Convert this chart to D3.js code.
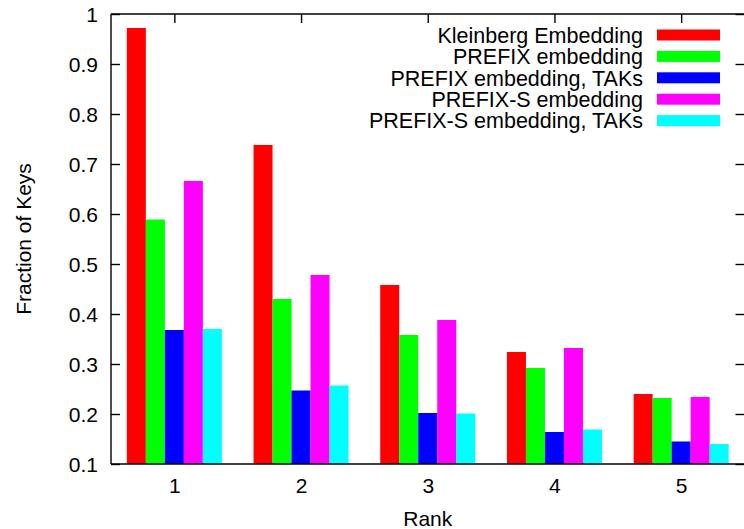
<!DOCTYPE html>
<html>
<head>
<meta charset="utf-8">
<script src="https://cdn.jsdelivr.net/npm/d3@7"></script>
<style>
  html, body { margin: 0; padding: 0; background: #fff; }
  svg { display: block; }
  text { font-family: "Liberation Sans", Arial, Helvetica, sans-serif; fill: #000; }
</style>
</head>
<body>
<svg id="chart" width="744" height="529"></svg>
<script>
// Ranks along the x axis
const ranks = [1, 2, 3, 4, 5];

// Series names and colours
const seriesNames = [
  "Kleinberg Embedding",
  "PREFIX embedding",
  "PREFIX embedding, TAKs",
  "PREFIX-S embedding",
  "PREFIX-S embedding, TAKs"
];
const seriesColors = ["#ff0000", "#00ff00", "#0000ff", "#ff00ff", "#00ffff"];

// Fraction of keys per rank, one array per series
const kleinberg   = [0.972, 0.738, 0.458, 0.324, 0.240];
const prefix      = [0.589, 0.430, 0.358, 0.292, 0.232];
const prefixTaks  = [0.368, 0.247, 0.202, 0.164, 0.145];
const prefixS     = [0.666, 0.478, 0.388, 0.332, 0.234];
const prefixSTaks = [0.370, 0.257, 0.201, 0.169, 0.140];
const seriesValues = [kleinberg, prefix, prefixTaks, prefixS, prefixSTaks];

// Y tick values and labels
const yTicks = [0.1, 0.2, 0.3, 0.4, 0.5, 0.6, 0.7, 0.8, 0.9, 1];
const yTickLabels = ["0.1", "0.2", "0.3", "0.4", "0.5", "0.6", "0.7", "0.8", "0.9", "1"];

const barWidthUnits = 0.15;
const fontSize = 21;

const svg = d3.select("#chart");
const plotLeft = 111, plotRight = 744.5, plotTop = 14, plotBottom = 464;

const x = d3.scaleLinear().domain([0.5, 5.5]).range([plotLeft, plotRight]);
const y = d3.scaleLinear().domain([0.1, 1]).range([plotBottom, plotTop]);
const bw = x(1 + barWidthUnits) - x(1);

// Bars
seriesValues.forEach((vals, si) => {
  svg.append("g")
    .selectAll("rect")
    .data(vals)
    .enter()
    .append("rect")
    .attr("x", (d, i) => x(ranks[i]) - 2.5 * bw + si * bw)
    .attr("width", bw)
    .attr("y", d => y(d))
    .attr("height", d => y(0.1) - y(d))
    .attr("fill", seriesColors[si]);
});

// Frame
const frame = svg.append("g").attr("stroke", "#000").attr("stroke-width", 1.4).attr("fill", "none");
frame.append("line").attr("x1", plotLeft).attr("x2", plotLeft).attr("y1", plotTop).attr("y2", plotBottom);
frame.append("line").attr("x1", plotLeft).attr("x2", plotRight).attr("y1", plotTop).attr("y2", plotTop);
frame.append("line").attr("x1", plotLeft).attr("x2", plotRight).attr("y1", plotBottom).attr("y2", plotBottom);

// Left axis with inward ticks
const yAxisLeft = d3.axisLeft(y).tickValues(yTicks)
  .tickFormat((d, i) => yTickLabels[i]).tickSizeInner(-9).tickSizeOuter(0);
const gyl = svg.append("g").attr("transform", `translate(${plotLeft},0)`).call(yAxisLeft);
gyl.select(".domain").remove();
gyl.selectAll(".tick line").attr("stroke", "#000").attr("stroke-width", 1.4);
gyl.selectAll(".tick text").attr("font-size", fontSize).attr("font-family", "Liberation Sans, Arial, sans-serif")
  .attr("x", -13).attr("dy", "0.36em");

// Right axis ticks (mirror)
const yAxisRight = d3.axisRight(y).tickValues(yTicks).tickFormat("").tickSizeInner(-9).tickSizeOuter(0);
const gyr = svg.append("g").attr("transform", `translate(${plotRight},0)`).call(yAxisRight);
gyr.select(".domain").remove();
gyr.selectAll(".tick line").attr("stroke", "#000").attr("stroke-width", 1.4);

// Bottom axis labels
const xAxisBottom = d3.axisBottom(x).tickValues(ranks).tickFormat(d3.format("d")).tickSize(0).tickPadding(0);
const gxb = svg.append("g").attr("transform", `translate(0,${plotBottom})`).call(xAxisBottom);
gxb.select(".domain").remove();
gxb.selectAll(".tick text").attr("font-size", fontSize).attr("font-family", "Liberation Sans, Arial, sans-serif")
  .attr("y", 29).attr("dy", 0);

// Top axis mirror ticks
const xAxisTop = d3.axisTop(x).tickValues(ranks).tickFormat("").tickSizeInner(-9).tickSizeOuter(0);
const gxt = svg.append("g").attr("transform", `translate(0,${plotTop})`).call(xAxisTop);
gxt.select(".domain").remove();
gxt.selectAll(".tick line").attr("stroke", "#000").attr("stroke-width", 1.4);

// Axis titles
svg.append("text")
  .attr("x", (plotLeft + plotRight) / 2).attr("y", 526)
  .attr("text-anchor", "middle").attr("font-size", fontSize)
  .text("Rank");
svg.append("text")
  .attr("transform", `translate(31,${(plotTop + plotBottom) / 2}) rotate(-90)`)
  .attr("text-anchor", "middle").attr("font-size", fontSize)
  .text("Fraction of Keys");

// Legend
const legend = svg.append("g");
seriesNames.forEach((name, i) => {
  const cy = 35 + i * 21.4;
  legend.append("text")
    .attr("x", 643).attr("y", cy).attr("dy", "0.36em")
    .attr("text-anchor", "end").attr("font-size", 21.5)
    .text(name);
  legend.append("rect")
    .attr("x", 657).attr("width", 63)
    .attr("y", cy - 5.5).attr("height", 11)
    .attr("fill", seriesColors[i]);
});
</script>
</body>
</html>
